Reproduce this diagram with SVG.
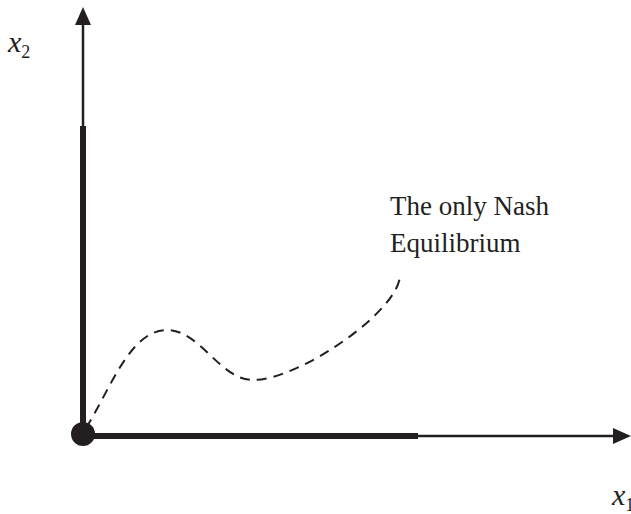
<svg xmlns="http://www.w3.org/2000/svg" width="631" height="514" viewBox="0 0 631 514">
<style>
.ax{stroke:#231f20;stroke-width:2.5;fill:none}
.thick{stroke:#231f20;stroke-width:6;fill:none}
.t{font-family:"Liberation Serif",serif;fill:#231f20}
</style>
<rect width="631" height="514" fill="#fff"/>
<g id="connectors">
<line class="ax" x1="83" y1="436" x2="83" y2="22"/>
<polygon points="83,7 75,25 91,25" fill="#231f20"/>
<line class="ax" x1="83" y1="436" x2="615" y2="436"/>
<polygon points="631,436 613,428 613,444" fill="#231f20"/>
<line class="thick" x1="83" y1="126" x2="83" y2="436"/>
<line class="thick" x1="83" y1="436" x2="418" y2="436"/>
<path d="M86,428 C110,390 130,330 167,330 C200,330 220,380 253,380 C300,380 400,310 400,275" fill="none" stroke="#231f20" stroke-width="2" stroke-dasharray="10,7"/>
</g>
<g id="origin"><circle cx="83" cy="434" r="12" fill="#231f20"/></g>
<g id="x2"><text class="t" x="8" y="52" font-size="30" font-style="italic">x<tspan font-size="18" font-style="normal" dy="6">2</tspan></text></g>
<g id="x1"><text class="t" x="612" y="505" font-size="30" font-style="italic">x<tspan font-size="18" font-style="normal" dy="6">1</tspan></text></g>
<g id="label"><text class="t" font-size="27"><tspan x="390" y="215">The only Nash</tspan><tspan x="390" y="252">Equilibrium</tspan></text></g>
</svg>
